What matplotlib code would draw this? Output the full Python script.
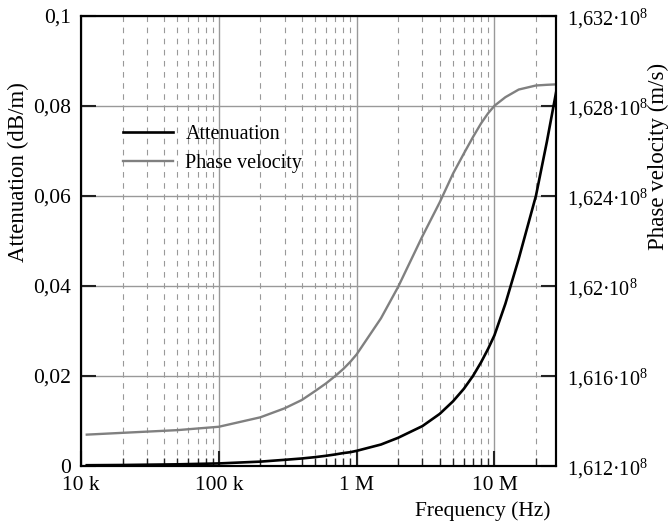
import matplotlib
matplotlib.use("Agg")
import matplotlib.pyplot as plt
from matplotlib.ticker import FixedLocator, LogLocator, NullFormatter

plt.rcParams["font.family"] = ["Liberation Serif", "DejaVu Serif"]
plt.rcParams["mathtext.fontset"] = "custom"
plt.rcParams["mathtext.rm"] = "Liberation Serif"
plt.rcParams["font.size"] = 15.5

# data
frequency = [1.1e4, 2e4, 5e4, 1e5, 2e5, 3e5, 4e5, 5e5, 6e5, 7e5, 8e5, 9e5,
             1e6, 1.5e6, 2e6, 3e6, 4e6, 5e6, 6e6, 7e6, 8e6, 9e6, 1e7,
             1.2e7, 1.5e7, 2e7, 2.4e7, 2.8e7]
attenuation = [0.0001, 0.00015, 0.0003, 0.0005, 0.0009, 0.0013, 0.0016,
               0.0019, 0.0022, 0.0025, 0.0028, 0.0030, 0.0033, 0.0047,
               0.0062, 0.0088, 0.0115, 0.0143, 0.0171, 0.0200, 0.0230,
               0.0260, 0.0290, 0.0360, 0.0460, 0.0600, 0.0720, 0.0830]
# phase velocity in units of 10^8 m/s
phase_velocity = [1.61338, 1.61346, 1.61358, 1.61373, 1.61415, 1.61455,
                  1.61492, 1.61532, 1.61566, 1.61599, 1.61630, 1.61662,
                  1.61695, 1.61855, 1.61995, 1.62220, 1.62370, 1.62498,
                  1.62588, 1.62662, 1.62722, 1.62767, 1.62800, 1.62838,
                  1.62872, 1.62890, 1.62893, 1.62895]

x_ticks = [1e4, 1e5, 1e6, 1e7]
x_labels = ["10 k", "100 k", "1 M", "10 M"]
att_ticks = [0, 0.02, 0.04, 0.06, 0.08, 0.1]
att_labels = ["0", "0,02", "0,04", "0,06", "0,08", "0,1"]
vel_ticks = [1.612, 1.616, 1.620, 1.624, 1.628, 1.632]
vel_labels = ["1,612·10$^{8}$", "1,616·10$^{8}$", "1,62·10$^{8}$",
              "1,624·10$^{8}$", "1,628·10$^{8}$", "1,632·10$^{8}$"]

fig = plt.figure(figsize=(6.7, 5.25), dpi=100)
ax = fig.add_axes([0.121, 0.113, 0.709, 0.857])
ax2 = ax.twinx()
# black curve above the grey one, grid drawn by ax2 underneath
ax.set_zorder(2)
ax2.set_zorder(1)
ax.patch.set_visible(False)
ax2.xaxis.set_visible(True)

ax.set_xscale("log")
ax.set_xlim(1e4, 2.8e7)
ax.set_ylim(0, 0.1)
ax2.set_ylim(1.612, 1.632)

l1, = ax.plot(frequency, attenuation, color="black", lw=1.9,
              label="Attenuation")
l2, = ax2.plot(frequency, phase_velocity, color="#808080", lw=1.7,
               label="Phase velocity")

ax.xaxis.set_major_locator(FixedLocator(x_ticks))
ax.set_xticklabels(x_labels)
ax.xaxis.set_minor_locator(LogLocator(base=10, subs=range(2, 10)))
ax.xaxis.set_minor_formatter(NullFormatter())
ax.set_yticks(att_ticks)
ax.set_yticklabels(att_labels)
ax2.set_yticks(vel_ticks)
ax2.set_yticklabels(vel_labels, fontsize=14.5)

ax2.grid(True, which="major", axis="both", color="#999999", lw=1.0)
ax2.grid(True, which="minor", axis="x", color="#999999", lw=0.8,
         linestyle=(0, (5, 5)))

for a in (ax, ax2):
    a.tick_params(which="major", direction="in", length=11, width=1.5,
                  color="#222222", pad=7.5)
    a.tick_params(which="minor", direction="in", length=6, width=1.0,
                  color="#222222")
    for s in a.spines.values():
        s.set_linewidth(1.5)
ax.tick_params(axis="y", right=False)
ax.tick_params(axis="x", top=False, which="both")
ax2.tick_params(axis="x", which="both", top=False, bottom=False,
                labelbottom=False, labeltop=False)

ax.set_ylabel("Attenuation (dB/m)", fontsize=16.5)
ax.yaxis.set_label_coords(-0.11, 0.652)
ax2.set_ylabel("Phase velocity (m/s)", fontsize=16.5)
ax2.yaxis.set_label_coords(1.193, 0.688)
ax.set_xlabel("Frequency (Hz)", fontsize=15.5)
ax.xaxis.set_label_coords(0.845, -0.08)

ax.legend(handles=[l1, l2], loc="upper left", bbox_to_anchor=(0.088, 0.757),
          frameon=False, borderpad=0, borderaxespad=0, handlelength=2.5,
          handletextpad=0.6, labelspacing=0.5, fontsize=14.5)

fig.savefig("out.png", dpi=100)
